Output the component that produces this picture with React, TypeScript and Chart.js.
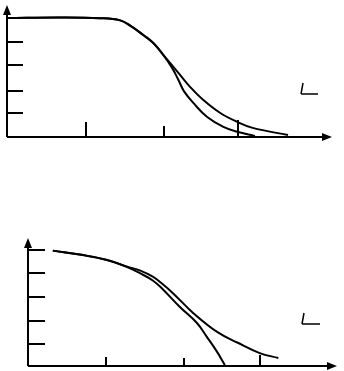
import React, { useEffect, useRef } from "react";
import { Chart, registerables } from "chart.js";

Chart.register(...registerables);

// ---- Top chart data ----
const topXTicks = [1.03, 2.04, 3.0];
const topYTicks = [1.0, 1.92, 3.0, 3.96];
const topCurveAx = [0, 0.69, 1.21, 1.47, 1.6, 1.77, 1.9, 2.01, 2.14, 2.22, 2.3, 2.42, 2.6, 2.81, 2.99, 3.22];
const topCurveAy = [4.96, 4.98, 4.95, 4.86, 4.64, 4.25, 3.92, 3.5, 2.9, 2.42, 1.9, 1.42, 0.83, 0.42, 0.22, 0.04];
const topCurveBx = [0, 0.69, 1.21, 1.47, 1.6, 1.77, 1.9, 2.01, 2.12, 2.25, 2.38, 2.55, 2.77, 2.99, 3.19, 3.65];
const topCurveBy = [4.96, 4.98, 4.95, 4.86, 4.64, 4.25, 3.92, 3.5, 3.08, 2.58, 2.08, 1.54, 1.0, 0.63, 0.38, 0.08];

// ---- Bottom chart data ----
const botXTicks = [1.01, 2.01, 2.99];
const botYTicks = [0.94, 1.91, 2.94, 3.96, 4.94];
const botCurveAx = [0.32, 0.71, 1.02, 1.28, 1.45, 1.61, 1.72, 1.87, 2.13, 2.44, 2.7, 2.99, 3.23];
const botCurveAy = [4.91, 4.72, 4.51, 4.23, 4.06, 3.8, 3.53, 3.1, 2.26, 1.45, 1.0, 0.55, 0.34];
const botCurveBx = [0.32, 0.71, 1.02, 1.28, 1.45, 1.61, 1.72, 1.96, 2.18, 2.31, 2.44, 2.54];
const botCurveBy = [4.91, 4.72, 4.51, 4.21, 3.94, 3.64, 3.33, 2.51, 1.83, 1.23, 0.6, 0.04];

type Pt = { x: number; y: number };
const zip = (xs: number[], ys: number[]): Pt[] => xs.map((x, i) => ({ x, y: ys[i] }));

type SketchProps = {
  width: number;
  height: number;
  padding: { left: number; right: number; top: number; bottom: number };
  xMax: number;
  yMax: number;
  xTicks: number[];
  yTicks: number[];
  xTickLens: number[];
  yTickLen: number;
  series: Pt[][];
  glyph: { x: number; y1: number; y2: number; slant: number; len: number };
};

const axesPlugin = {
  id: "sketchAxes",
  afterDatasetsDraw(chart: any, _args: any, opts: any) {
    const { ctx, chartArea } = chart;
    const xs = chart.scales.x;
    const ys = chart.scales.y;
    const { left, right, top, bottom } = chartArea;
    ctx.save();
    ctx.strokeStyle = "#000";
    ctx.fillStyle = "#000";
    ctx.lineWidth = 2;
    ctx.lineCap = "butt";
    // axes
    ctx.beginPath();
    ctx.moveTo(left, bottom);
    ctx.lineTo(right - 6, bottom);
    ctx.moveTo(left, bottom);
    ctx.lineTo(left, top + 6);
    ctx.stroke();
    // arrow heads
    ctx.beginPath();
    ctx.moveTo(right, bottom);
    ctx.lineTo(right - 10, bottom - 4);
    ctx.lineTo(right - 10, bottom + 4);
    ctx.closePath();
    ctx.fill();
    ctx.beginPath();
    ctx.moveTo(left, top);
    ctx.lineTo(left - 4, top + 10);
    ctx.lineTo(left + 4, top + 10);
    ctx.closePath();
    ctx.fill();
    // ticks
    ctx.beginPath();
    (opts.xTicks as number[]).forEach((v, i) => {
      const px = Math.round(xs.getPixelForValue(v));
      ctx.moveTo(px, bottom);
      ctx.lineTo(px, bottom - opts.xTickLens[i]);
    });
    (opts.yTicks as number[]).forEach((v) => {
      const py = Math.round(ys.getPixelForValue(v));
      ctx.moveTo(left, py);
      ctx.lineTo(left + opts.yTickLen, py);
    });
    ctx.stroke();
    // small sketch glyph
    const g = opts.glyph;
    ctx.lineWidth = 1.5;
    ctx.beginPath();
    ctx.moveTo(g.x + g.slant, g.y1);
    ctx.lineTo(g.x, g.y2);
    ctx.moveTo(g.x, g.y2);
    ctx.lineTo(g.x + g.len, g.y2);
    ctx.stroke();
    ctx.restore();
  },
};

function SketchChart(props: SketchProps) {
  const ref = useRef<HTMLCanvasElement | null>(null);
  useEffect(() => {
    if (!ref.current) return;
    const chart = new Chart(ref.current, {
      type: "line",
      data: {
        datasets: props.series.map((s) => ({
          data: s,
          borderColor: "#000",
          borderWidth: 2,
          pointRadius: 0,
          fill: false,
          tension: 0.4,
          clip: false as any,
        })),
      },
      options: {
        responsive: false,
        animation: false,
        devicePixelRatio: 1,
        layout: { padding: props.padding },
        plugins: {
          legend: { display: false },
          tooltip: { enabled: false },
          sketchAxes: {
            xTicks: props.xTicks,
            yTicks: props.yTicks,
            xTickLens: props.xTickLens,
            yTickLen: props.yTickLen,
            glyph: props.glyph,
          },
        } as any,
        scales: {
          x: { type: "linear", min: 0, max: props.xMax, display: false },
          y: { type: "linear", min: 0, max: props.yMax, display: false },
        },
      },
      plugins: [axesPlugin],
    });
    return () => chart.destroy();
  }, []);
  return (
    <canvas
      ref={ref}
      width={props.width}
      height={props.height}
      style={{ display: "block", width: props.width, height: props.height }}
    />
  );
}

export default function App() {
  useEffect(() => {
    document.body.style.margin = "0";
    document.body.style.background = "#fff";
  }, []);
  return (
    <div style={{ width: 344, height: 371, background: "#fff" }}>
      <SketchChart
        width={344}
        height={185}
        padding={{ left: 7, right: 12, top: 5, bottom: 48 }}
        xMax={(332 - 7) / 77}
        yMax={(137 - 5) / 24}
        xTicks={topXTicks}
        yTicks={topYTicks}
        xTickLens={[15, 11, 17]}
        yTickLen={16}
        series={[zip(topCurveAx, topCurveAy), zip(topCurveBx, topCurveBy)]}
        glyph={{ x: 301, y1: 83, y2: 94, slant: 2, len: 17 }}
      />
      <SketchChart
        width={344}
        height={186}
        padding={{ left: 28, right: 7, top: 53, bottom: 5 }}
        xMax={(337 - 28) / 77.5}
        yMax={(366 - 238) / 23.5}
        xTicks={botXTicks}
        yTicks={botYTicks}
        xTickLens={[9, 8, 11]}
        yTickLen={17}
        series={[zip(botCurveAx, botCurveAy), zip(botCurveBx, botCurveBy)]}
        glyph={{ x: 302, y1: 128, y2: 139, slant: 2, len: 18 }}
      />
    </div>
  );
}
